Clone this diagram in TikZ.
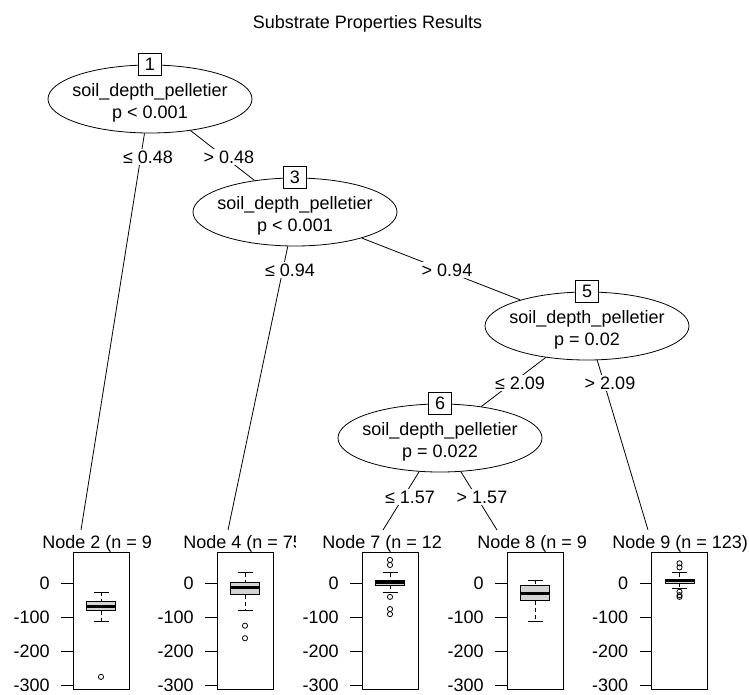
\documentclass[tikz,border=0pt]{standalone}
\usepackage{fontspec}
\setmainfont{Liberation Sans}
\usetikzlibrary{shapes.geometric}
\definecolor{boxgray}{HTML}{D3D3D3}

\newcommand{\ntext}[1]{\makebox[0pt]{\rule{0pt}{21pt}soil\_depth\_pelletier}\\\makebox[0pt]{#1}}
\newcommand{\panel}[5]{%
	\begin{scope}
		\clip (#4-3,525) rectangle (#5,560);
		\node[anchor=base west,inner sep=0pt] (#1) at (#4,548) {#3};
	\end{scope}
	\draw (#2-28,552) rectangle (#2+28,689);
	\foreach \v/\t in {0/0,1/-100,2/-200,3/-300}
		\draw (#2-28,583.3+33.9*\v) -- (#2-40,583.3+33.9*\v)
			node[anchor=east,inner sep=0pt,xshift=-11pt] (#1y\v) {\t};
}
\newcommand{\bxplot}[6]{%
	\begin{scope}[shift={(0,583.3)},y=0.339pt]
		\draw[dash pattern=on 4pt off 3pt] (#1,#2) -- (#1,#3) (#1,#5) -- (#1,#6);
		\draw (#1-7.5,#2) -- (#1+7.5,#2) (#1-7.5,#6) -- (#1+7.5,#6);
		\draw[fill=boxgray] (#1-14.5,#5) rectangle (#1+14.5,#3);
		\draw[line width=3pt] (#1-14.5,#4) -- (#1+14.5,#4);
	\end{scope}}
\newcommand{\bxout}[2]{%
	\begin{scope}[shift={(0,583.3)},y=0.339pt]
		\foreach \o in {#2} \draw (#1,\o) circle (2.6pt);
	\end{scope}}

\begin{document}
\begin{tikzpicture}[x=1pt,y=-1pt,line width=0.8pt,
	font=\fontsize{18}{22}\selectfont,
	splitnode/.style={draw,ellipse,minimum width=204pt,minimum height=68pt,inner sep=0pt,align=center},
	idbox/.style={draw,fill=white,minimum width=23pt,minimum height=22pt,inner sep=0pt},
	elab/.style={fill=white,inner sep=1.5pt}]
	\useasboundingbox (0,0) rectangle (749,694);
	
	\node[anchor=base] (title) at (367.5,28) {Substrate Properties Results};
	
	\node[splitnode] (n1) at (150,99) {\ntext{p < 0.001}};
	\node[splitnode] (n3) at (295,212) {\ntext{p < 0.001}};
	\node[splitnode] (n5) at (587,326) {\ntext{p = 0.02}};
	\node[splitnode] (n6) at (440,438) {\ntext{p = 0.022}};
	
	\coordinate (t2) at (81,530);
	\coordinate (t4) at (228,530);
	\coordinate (t7) at (383,530);
	\coordinate (t8) at (497,530);
	\coordinate (t9) at (648,530);
	
	\draw (n1) -- (t2);
	\draw (n1) -- (n3);
	\draw (n3) -- (t4);
	\draw (n3) -- (n5);
	\draw (n5) -- (n6);
	\draw (n5) -- (t9);
	\draw (n6) -- (t7);
	\draw (n6) -- (t8);
	
	\node[idbox] (b1) at (n1.north) {1};
	\node[idbox] (b3) at (n3.north) {3};
	\node[idbox] (b5) at (n5.north) {5};
	\node[idbox] (b6) at (n6.north) {6};
	
	\node[elab] (l2) at (148,157) {≤ 0.48};
	\node[elab] (l3) at (229,157) {> 0.48};
	\node[elab] (l4) at (290,270) {≤ 0.94};
	\node[elab] (l5) at (447,270) {> 0.94};
	\node[elab] (l6) at (520,383) {≤ 2.09};
	\node[elab] (l9) at (610,383) {> 2.09};
	\node[elab] (l7) at (410,497) {≤ 1.57};
	\node[elab] (l8) at (482,497) {> 1.57};
	
	\panel{p2}{101}{Node 2 (n = 9}{42}{152}
	\panel{p4}{245}{Node 4 (n = 75}{183}{295}
	\panel{p7}{390}{Node 7 (n = 12}{322}{443}
	\panel{p8}{535}{Node 8 (n = 9}{477}{588}
	\panel{p9}{679.5}{Node 9 (n = 123)}{612}{749}
	
	\bxplot{101}{-26}{-54}{-67}{-81}{-111}
	\bxout{101}{-276}
	\bxplot{245}{31}{2}{-13}{-34}{-81}
	\bxout{245}{-125,-162}
	\bxplot{390}{31}{10}{2}{-5}{-28}
	\bxout{390}{69,54,-40,-76,-91}
	\bxplot{535}{10}{-7}{-31}{-51}{-111}
	\bxplot{679.5}{31}{12}{7}{0}{-15}
	\bxout{679.5}{59,47,-25,-35,-40}
\end{tikzpicture}
\end{document}
